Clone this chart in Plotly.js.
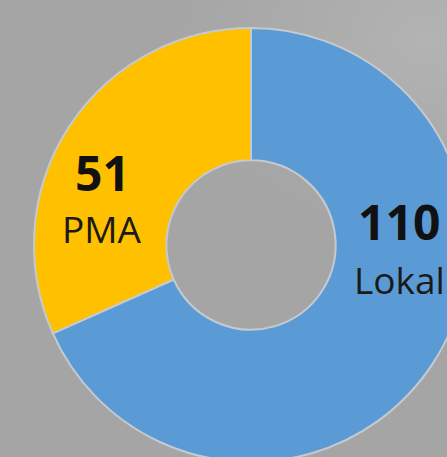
<!DOCTYPE html>
<html>
<head>
<meta charset="utf-8">
<script src="https://cdn.plot.ly/plotly-3.0.1.min.js"></script>
<style>
  html, body { margin: 0; padding: 0; width: 447px; height: 457px; overflow: hidden; }
  body { background: radial-gradient(ellipse 260px 200px at 430px 40px, #b3b3b3 0%, #acacac 45%, #a5a5a5 100%); }
  #chart { position: absolute; left: 0; top: 0; width: 500px; height: 500px; }
</style>
</head>
<body>
<div id="chart"></div>
<script>
// Data
var categories = ["Lokal", "PMA"];
var values = [110, 51];
var sliceColors = ["#5b9bd5", "#ffc000"];

// label positions (paper fractions of the 500x500 layout)
var labelX = [399 / 500, 102 / 500];
var valueY = [1 - 222 / 500, 1 - 172 / 500];
var nameY  = [1 - 279 / 500, 1 - 229 / 500];

var annotations = [];
for (var i = 0; i < categories.length; i++) {
  annotations.push({
    xref: "paper", yref: "paper", x: labelX[i], y: valueY[i],
    xanchor: "center", yanchor: "middle", showarrow: false,
    text: "<b>" + values[i] + "</b>",
    font: { family: "Open Sans", size: 48, color: "#111111" }
  });
  annotations.push({
    xref: "paper", yref: "paper", x: labelX[i], y: nameY[i],
    xanchor: "center", yanchor: "middle", showarrow: false,
    text: categories[i],
    font: { family: "Open Sans", size: 37, color: "#1a1a1a" }
  });
}

var trace = {
  type: "pie",
  labels: categories,
  values: values,
  hole: 0.39,
  sort: false,
  direction: "clockwise",
  rotation: 0,
  textinfo: "none",
  hoverinfo: "none",
  marker: { colors: sliceColors, line: { color: "#c4cad0", width: 2 } },
  domain: { x: [34 / 500, 468 / 500], y: [38 / 500, 472 / 500] }
};

var layout = {
  width: 500, height: 500,
  margin: { l: 0, r: 0, t: 0, b: 0 },
  paper_bgcolor: "rgba(0,0,0,0)",
  plot_bgcolor: "rgba(0,0,0,0)",
  showlegend: false,
  annotations: annotations
};

Plotly.newPlot("chart", [trace], layout, { displayModeBar: false, staticPlot: true });
</script>
</body>
</html>
